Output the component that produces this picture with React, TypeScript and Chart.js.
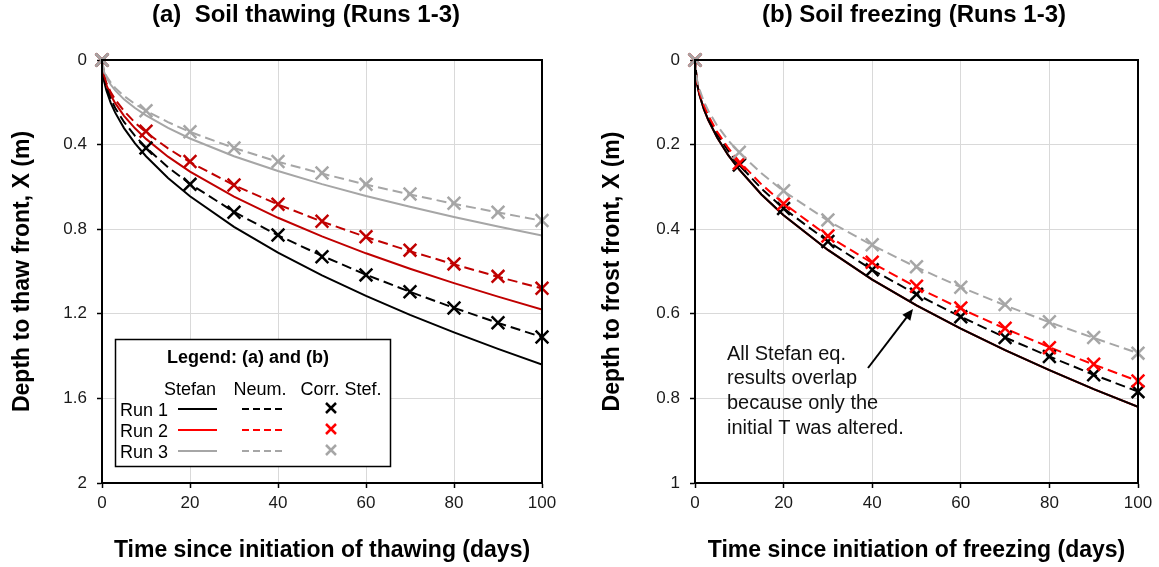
import React, { useEffect, useRef } from "react";
import { Chart, registerables } from "chart.js";

Chart.register(...registerables);

// ---------- data ----------
const T_LINE = [0, 0.5, 1, 2, 3, 5, 7.5, 10, 15, 20, 30, 40, 50, 60, 70, 80, 90, 100];
const T_MARK = [0, 10, 20, 30, 40, 50, 60, 70, 80, 90, 100];

// (a) Soil thawing
const A_STEFAN_1 = [0, 0.102, 0.144, 0.204, 0.249, 0.322, 0.394, 0.455, 0.558, 0.644, 0.789, 0.911, 1.018, 1.115, 1.205, 1.288, 1.366, 1.44];
const A_STEFAN_2 = [0, 0.083, 0.118, 0.167, 0.204, 0.264, 0.323, 0.373, 0.457, 0.528, 0.646, 0.746, 0.834, 0.914, 0.987, 1.055, 1.119, 1.18];
const A_STEFAN_3 = [0, 0.059, 0.083, 0.117, 0.144, 0.186, 0.227, 0.262, 0.321, 0.371, 0.455, 0.525, 0.587, 0.643, 0.694, 0.742, 0.787, 0.83];
const A_NEUM_1 = [0, 0.093, 0.131, 0.185, 0.227, 0.293, 0.359, 0.414, 0.507, 0.586, 0.718, 0.829, 0.926, 1.015, 1.096, 1.172, 1.243, 1.31];
const A_NEUM_2 = [0, 0.076, 0.108, 0.153, 0.187, 0.241, 0.296, 0.342, 0.418, 0.483, 0.592, 0.683, 0.764, 0.837, 0.904, 0.966, 1.025, 1.08];
const A_NEUM_3 = [0, 0.054, 0.076, 0.107, 0.132, 0.17, 0.208, 0.24, 0.294, 0.34, 0.416, 0.481, 0.537, 0.589, 0.636, 0.68, 0.721, 0.76];
const A_CORR_1 = [0, 0.416, 0.588, 0.72, 0.827, 0.93, 1.016, 1.096, 1.173, 1.242, 1.31];
const A_CORR_2 = [0, 0.337, 0.48, 0.591, 0.682, 0.762, 0.836, 0.899, 0.964, 1.023, 1.079];
const A_CORR_3 = [0, 0.24, 0.339, 0.416, 0.48, 0.534, 0.588, 0.634, 0.677, 0.72, 0.759];

// (b) Soil freezing
const B_STEFAN = [0, 0.058, 0.082, 0.116, 0.142, 0.183, 0.225, 0.259, 0.318, 0.367, 0.449, 0.519, 0.58, 0.635, 0.686, 0.733, 0.778, 0.82];
const B_NEUM_1 = [0, 0.055, 0.078, 0.111, 0.136, 0.175, 0.215, 0.248, 0.304, 0.351, 0.429, 0.496, 0.554, 0.607, 0.656, 0.701, 0.744, 0.784];
const B_NEUM_2 = [0, 0.054, 0.076, 0.107, 0.131, 0.17, 0.208, 0.24, 0.294, 0.339, 0.416, 0.48, 0.537, 0.588, 0.635, 0.679, 0.72, 0.759];
const B_NEUM_3 = [0, 0.049, 0.069, 0.098, 0.12, 0.155, 0.19, 0.219, 0.268, 0.31, 0.38, 0.438, 0.49, 0.537, 0.58, 0.62, 0.657, 0.693];
const B_CORR_1 = [0, 0.248, 0.351, 0.429, 0.496, 0.554, 0.607, 0.656, 0.701, 0.744, 0.784];
const B_CORR_2 = [0, 0.244, 0.34, 0.416, 0.478, 0.535, 0.586, 0.634, 0.68, 0.719, 0.759];
const B_CORR_3 = [0, 0.218, 0.309, 0.378, 0.437, 0.489, 0.537, 0.578, 0.619, 0.656, 0.693];

const RUN_LABELS = ["Run 1", "Run 2", "Run 3"];
const LEGEND_HEADERS = ["Stefan", "Neum.", "Corr. Stef."];
const LEGEND_TITLE = "Legend: (a) and (b)";
const NOTE_LINES = ["All Stefan eq.", "results overlap", "because only the", "initial T was altered."];

const TITLE_A = "(a)  Soil thawing (Runs 1-3)";
const TITLE_B = "(b) Soil freezing (Runs 1-3)";
const XTITLE_A = "Time since initiation of thawing (days)";
const XTITLE_B = "Time since initiation of freezing (days)";
const YTITLE_A = "Depth to thaw front, X (m)";
const YTITLE_B = "Depth to frost front, X (m)";

// ---------- styles ----------
const FONT = '"Liberation Sans", Arial, Helvetica, sans-serif';
const BLACK = "#000000";
const RED_DARK = "#C00000";
const RED = "#FF0000";
const GRAY = "#A6A6A6";
const GRID = "#D9D9D9";
const TICK = "#1a1a1a";

const xy = (ts: number[], ys: number[]) => ts.map((t, i) => ({ x: t, y: ys[i] }));

const lineDs = (ys: number[], color: string, dashed: boolean) => ({
  data: xy(T_LINE, ys),
  showLine: true,
  borderColor: color,
  backgroundColor: color,
  borderWidth: 2,
  borderDash: dashed ? [10, 5] : [],
  pointRadius: 0,
  tension: 0,
  fill: false,
});

const markDs = (ys: number[], color: string) => ({
  data: xy(T_MARK, ys),
  showLine: false,
  pointStyle: "crossRot",
  pointRadius: 9,
  pointBorderWidth: 2.5,
  borderColor: color,
  backgroundColor: color,
  pointBorderColor: color,
  clip: false,
});

function crossMark(ctx: CanvasRenderingContext2D, x: number, y: number, r: number, color: string) {
  ctx.save();
  ctx.strokeStyle = color;
  ctx.lineWidth = 2.5;
  ctx.beginPath();
  ctx.moveTo(x - r, y - r);
  ctx.lineTo(x + r, y + r);
  ctx.moveTo(x + r, y - r);
  ctx.lineTo(x - r, y + r);
  ctx.stroke();
  ctx.restore();
}

function drawLegend(ctx: CanvasRenderingContext2D) {
  const colors = [BLACK, RED, GRAY];
  ctx.save();
  ctx.fillStyle = "#ffffff";
  ctx.fillRect(115, 339, 276, 128);
  ctx.strokeStyle = BLACK;
  ctx.lineWidth = 1.5;
  ctx.strokeRect(115.5, 339.5, 275, 127);
  ctx.fillStyle = BLACK;
  ctx.textBaseline = "middle";
  ctx.textAlign = "center";
  ctx.font = `bold 18px ${FONT}`;
  ctx.fillText(LEGEND_TITLE, 248, 358);
  ctx.font = `18px ${FONT}`;
  const hx = [190, 260, 341];
  LEGEND_HEADERS.forEach((h, i) => ctx.fillText(h, hx[i], 390));
  ctx.textAlign = "left";
  const rowY = [410, 431, 452];
  RUN_LABELS.forEach((lab, i) => {
    const y = rowY[i];
    ctx.fillStyle = BLACK;
    ctx.fillText(lab, 120, y + 1);
    ctx.strokeStyle = colors[i];
    ctx.lineWidth = 2;
    ctx.setLineDash([]);
    ctx.beginPath();
    ctx.moveTo(178, y - 1);
    ctx.lineTo(217, y - 1);
    ctx.stroke();
    ctx.setLineDash([7, 4]);
    ctx.beginPath();
    ctx.moveTo(242, y - 1);
    ctx.lineTo(282, y - 1);
    ctx.stroke();
    ctx.setLineDash([]);
    crossMark(ctx, 331, y - 2, 5, colors[i]);
  });
  ctx.restore();
}

function drawNote(ctx: CanvasRenderingContext2D) {
  ctx.save();
  ctx.fillStyle = "#111111";
  ctx.font = `20px ${FONT}`;
  ctx.textAlign = "left";
  ctx.textBaseline = "middle";
  NOTE_LINES.forEach((l, i) => ctx.fillText(l, 147, 354 + i * 24.8));
  // arrow
  const x0 = 288, y0 = 368, x1 = 333, y1 = 309;
  const ang = Math.atan2(y1 - y0, x1 - x0);
  ctx.strokeStyle = BLACK;
  ctx.fillStyle = BLACK;
  ctx.lineWidth = 2;
  ctx.beginPath();
  ctx.moveTo(x0, y0);
  ctx.lineTo(x1 - 8 * Math.cos(ang), y1 - 8 * Math.sin(ang));
  ctx.stroke();
  ctx.beginPath();
  ctx.moveTo(x1, y1);
  ctx.lineTo(x1 - 11 * Math.cos(ang) + 5 * Math.sin(ang), y1 - 11 * Math.sin(ang) - 5 * Math.cos(ang));
  ctx.lineTo(x1 - 11 * Math.cos(ang) - 5 * Math.sin(ang), y1 - 11 * Math.sin(ang) + 5 * Math.cos(ang));
  ctx.closePath();
  ctx.fill();
  ctx.restore();
}

type Panel = {
  title: string;
  titleX: number;
  xTitle: string;
  yTitle: string;
  yMax: number;
  yStep: number;
  yAxisW: number;
  yTitlePad: number;
  padRight: number;
  datasets: any[];
  extra: (ctx: CanvasRenderingContext2D) => void;
};

function makeConfig(p: Panel): any {
  const fmt = (v: number) => String(Math.round(v * 10) / 10);
  const framePlugin = {
    id: "frameAndText",
    afterDraw(chart: any) {
      const { ctx, chartArea } = chart;
      ctx.save();
      ctx.strokeStyle = BLACK;
      ctx.lineWidth = 2;
      ctx.strokeRect(chartArea.left, chartArea.top, chartArea.right - chartArea.left, chartArea.bottom - chartArea.top);
      ctx.fillStyle = BLACK;
      ctx.font = `bold 24px ${FONT}`;
      ctx.textAlign = "center";
      ctx.textBaseline = "alphabetic";
      ctx.fillText(p.title, p.titleX, 22);
      ctx.restore();
      p.extra(ctx);
    },
  };
  return {
    type: "scatter",
    data: { datasets: p.datasets },
    options: {
      responsive: false,
      animation: false,
      events: [],
      layout: { padding: { top: 60, left: 0, right: p.padRight, bottom: 0 } },
      plugins: { legend: { display: false }, tooltip: { enabled: false }, title: { display: false } },
      scales: {
        x: {
          type: "linear",
          min: 0,
          max: 100,
          ticks: { stepSize: 20, color: TICK, font: { family: FONT, size: 17 }, padding: 5, maxRotation: 0 },
          grid: { color: GRID, lineWidth: 1, tickColor: BLACK, tickLength: 5, tickWidth: 1.5 },
          border: { color: BLACK, width: 2 },
          title: {
            display: true,
            text: p.xTitle,
            color: BLACK,
            font: { family: FONT, size: 23, weight: "bold" },
            padding: { top: 0, bottom: 3 },
          },
          afterFit: (s: any) => {
            s.height = 84;
          },
        },
        y: {
          type: "linear",
          reverse: true,
          min: 0,
          max: p.yMax,
          ticks: {
            stepSize: p.yStep,
            color: TICK,
            font: { family: FONT, size: 17 },
            padding: 10,
            callback: (v: number) => fmt(v),
          },
          grid: { color: GRID, lineWidth: 1, tickColor: BLACK, tickLength: 5, tickWidth: 1.5 },
          border: { color: BLACK, width: 2 },
          title: {
            display: true,
            text: p.yTitle,
            color: BLACK,
            font: { family: FONT, size: 23, weight: "bold" },
            padding: { top: p.yTitlePad, bottom: 0 },
          },
          afterFit: (s: any) => {
            s.width = p.yAxisW;
          },
        },
      },
    },
    plugins: [framePlugin],
  };
}

const PANEL_A: Panel = {
  title: TITLE_A,
  titleX: 306,
  xTitle: XTITLE_A,
  yTitle: YTITLE_A,
  yMax: 2,
  yStep: 0.4,
  yAxisW: 102,
  yTitlePad: 9,
  padRight: 38,
  datasets: [
    markDs(A_CORR_3, GRAY),
    markDs(A_CORR_2, RED_DARK),
    markDs(A_CORR_1, BLACK),
    lineDs(A_NEUM_3, GRAY, true),
    lineDs(A_NEUM_2, RED_DARK, true),
    lineDs(A_NEUM_1, BLACK, true),
    lineDs(A_STEFAN_3, GRAY, false),
    lineDs(A_STEFAN_2, RED_DARK, false),
    lineDs(A_STEFAN_1, BLACK, false),
  ],
  extra: drawLegend,
};

const PANEL_B: Panel = {
  title: TITLE_B,
  titleX: 334,
  xTitle: XTITLE_B,
  yTitle: YTITLE_B,
  yMax: 1,
  yStep: 0.2,
  yAxisW: 115,
  yTitlePad: 19,
  padRight: 21,
  datasets: [
    markDs(B_CORR_3, GRAY),
    markDs(B_CORR_2, RED),
    markDs(B_CORR_1, BLACK),
    lineDs(B_NEUM_3, GRAY, true),
    lineDs(B_NEUM_2, RED, true),
    lineDs(B_NEUM_1, BLACK, true),
    lineDs(B_STEFAN, BLACK, false),
    lineDs(B_STEFAN, RED, false),
    lineDs(B_STEFAN, GRAY, false),
  ],
  extra: drawNote,
};

function ChartCanvas({ panel, left, width }: { panel: Panel; left: number; width: number }) {
  const ref = useRef<HTMLCanvasElement | null>(null);
  useEffect(() => {
    if (!ref.current) return;
    const chart = new Chart(ref.current, makeConfig(panel));
    return () => chart.destroy();
  }, [panel]);
  return (
    <canvas
      ref={ref}
      width={width}
      height={567}
      style={{ position: "absolute", left, top: 0, width, height: 567 }}
    />
  );
}

export default function App() {
  return (
    <div style={{ position: "absolute", left: 0, top: 0, width: 1159, height: 567, background: "#ffffff" }}>
      <ChartCanvas panel={PANEL_A} left={0} width={580} />
      <ChartCanvas panel={PANEL_B} left={580} width={579} />
    </div>
  );
}
